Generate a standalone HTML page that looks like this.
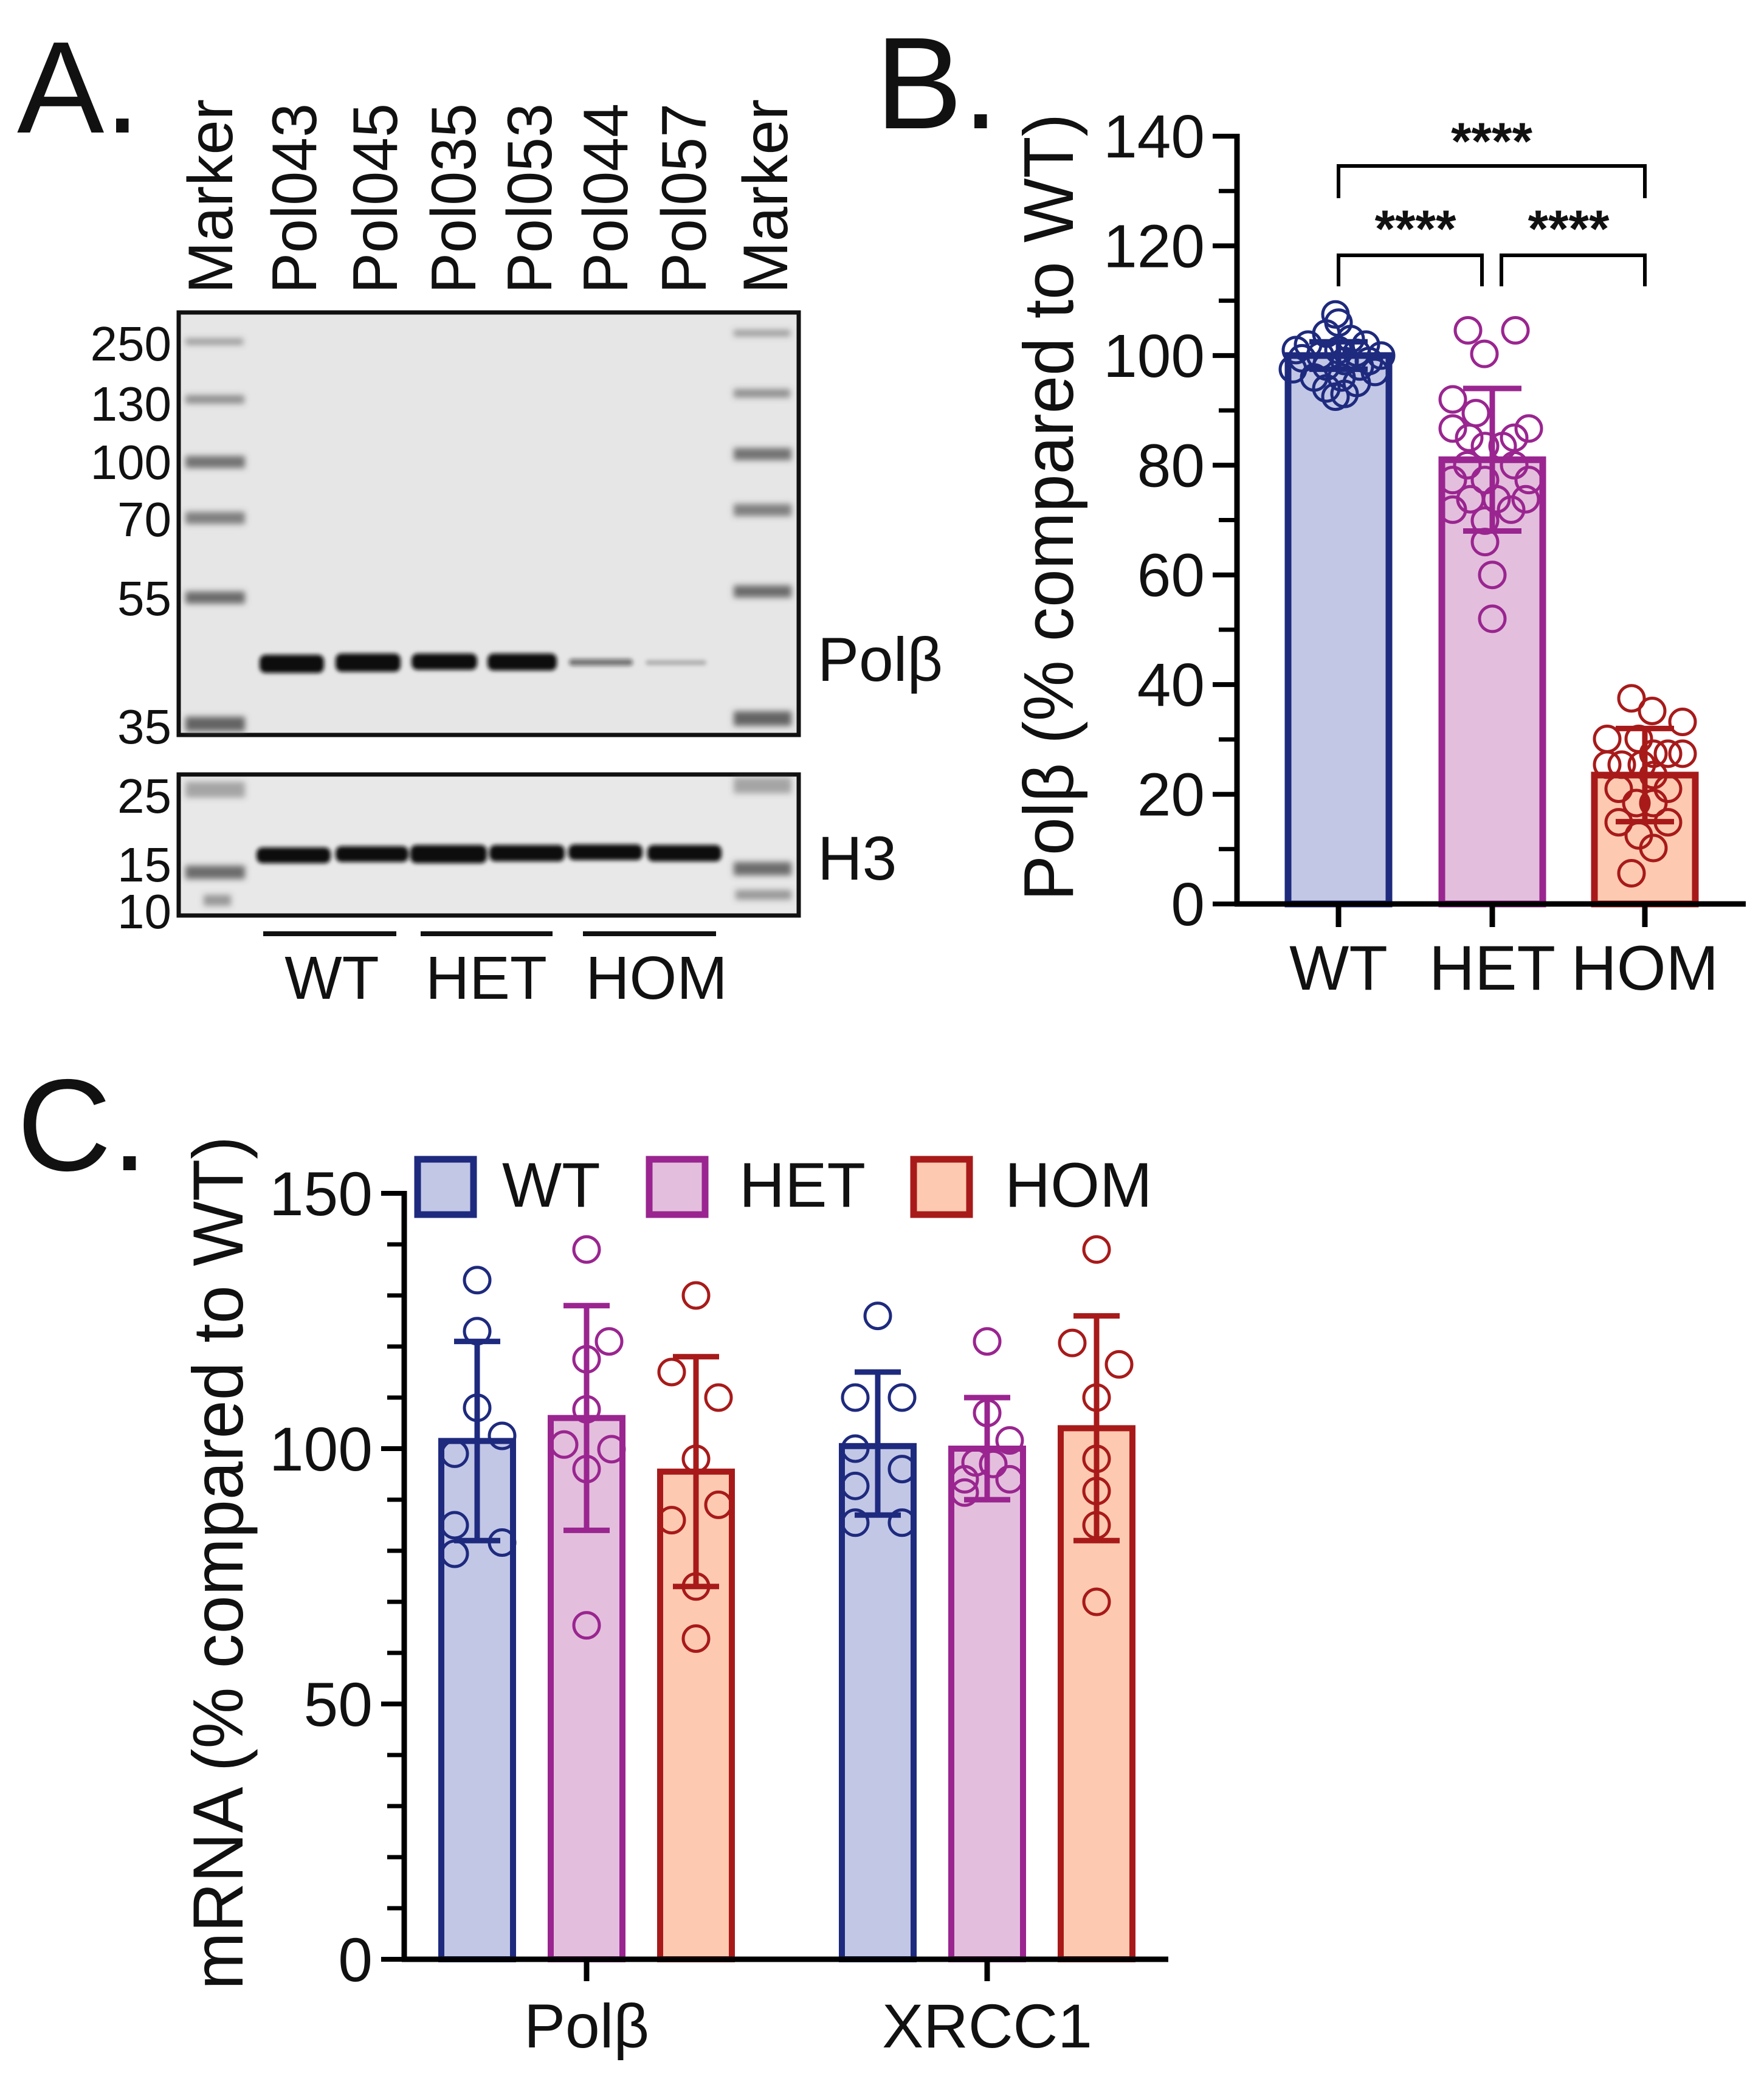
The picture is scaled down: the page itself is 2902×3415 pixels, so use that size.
<!DOCTYPE html>
<html><head><meta charset="utf-8"><style>
html,body{margin:0;padding:0;background:#fff}
svg{display:block}
text{font-family:"Liberation Sans",Arial,sans-serif;fill:#111}
</style></head><body>
<svg id="fig" width="2902" height="3415" viewBox="0 0 2902 3415" xmlns="http://www.w3.org/2000/svg">
<defs>
<filter id="blur4" x="-20%" y="-300%" width="140%" height="700%"><feGaussianBlur stdDeviation="5"/></filter>
<filter id="blur3" x="-20%" y="-200%" width="140%" height="500%"><feGaussianBlur stdDeviation="3.5"/></filter>
</defs>
<g id="panelA">
<text x="28" y="218" font-size="215">A.</text>
<g font-size="104">
<text transform="translate(382,483) rotate(-90)" textLength="320" lengthAdjust="spacingAndGlyphs">Marker</text>
<text transform="translate(520,483) rotate(-90)" textLength="313" lengthAdjust="spacingAndGlyphs">Pol043</text>
<text transform="translate(653,483) rotate(-90)" textLength="313" lengthAdjust="spacingAndGlyphs">Pol045</text>
<text transform="translate(782,483) rotate(-90)" textLength="313" lengthAdjust="spacingAndGlyphs">Pol035</text>
<text transform="translate(907,483) rotate(-90)" textLength="313" lengthAdjust="spacingAndGlyphs">Pol053</text>
<text transform="translate(1032,483) rotate(-90)" textLength="313" lengthAdjust="spacingAndGlyphs">Pol044</text>
<text transform="translate(1161,483) rotate(-90)" textLength="313" lengthAdjust="spacingAndGlyphs">Pol057</text>
<text transform="translate(1295,483) rotate(-90)" textLength="320" lengthAdjust="spacingAndGlyphs">Marker</text>
</g>
<g font-size="80" text-anchor="end">
<text x="282" y="593">250</text>
<text x="282" y="692">130</text>
<text x="282" y="788">100</text>
<text x="282" y="882">70</text>
<text x="282" y="1012">55</text>
<text x="282" y="1223">35</text>
<text x="282" y="1337">25</text>
<text x="282" y="1450">15</text>
<text x="282" y="1527">10</text>
</g>
<g id="blot1">
<rect x="294" y="514" width="1020" height="695" fill="#e6e6e6" stroke="#111" stroke-width="7"/>
<g fill="#555" filter="url(#blur4)">
<rect x="305" y="557" width="95" height="10" opacity="0.55"/>
<rect x="305" y="650" width="97" height="14" opacity="0.6"/>
<rect x="305" y="750" width="98" height="20" opacity="0.8"/>
<rect x="305" y="842" width="98" height="20" opacity="0.7"/>
<rect x="305" y="973" width="98" height="20" opacity="0.85"/>
<rect x="305" y="1179" width="98" height="24" opacity="0.9"/>
</g>
<g fill="#555" filter="url(#blur4)">
<rect x="1207" y="543" width="93" height="10" opacity="0.55"/>
<rect x="1207" y="640" width="93" height="14" opacity="0.6"/>
<rect x="1207" y="737" width="95" height="20" opacity="0.8"/>
<rect x="1207" y="829" width="95" height="20" opacity="0.7"/>
<rect x="1207" y="963" width="95" height="20" opacity="0.85"/>
<rect x="1207" y="1170" width="95" height="24" opacity="0.9"/>
</g>
<g fill="#111" filter="url(#blur3)">
<rect x="427" y="1077" width="106" height="30" rx="10"/>
<rect x="552" y="1075" width="107" height="30" rx="10"/>
<rect x="677" y="1075" width="108" height="27" rx="10"/>
<rect x="802" y="1075" width="114" height="28" rx="10"/>
<rect x="936" y="1084" width="105" height="11" rx="5" opacity="0.55"/>
<rect x="1062" y="1086" width="100" height="8" rx="4" opacity="0.25"/>
</g>
</g>
<g id="blot2">
<rect x="294" y="1274" width="1020" height="232" fill="#e8e8e8" stroke="#111" stroke-width="7"/>
<g fill="#555" filter="url(#blur4)">
<rect x="305" y="1286" width="98" height="26" opacity="0.45"/>
<rect x="305" y="1424" width="98" height="22" opacity="0.85"/>
<rect x="335" y="1472" width="45" height="18" opacity="0.55"/>
<rect x="1207" y="1279" width="95" height="26" opacity="0.45"/>
<rect x="1207" y="1418" width="95" height="22" opacity="0.85"/>
<rect x="1210" y="1464" width="92" height="16" opacity="0.55"/>
</g>
<g fill="#111" filter="url(#blur3)">
<rect x="422" y="1394" width="122" height="26" rx="10"/>
<rect x="552" y="1392" width="120" height="26" rx="10"/>
<rect x="675" y="1390" width="126" height="30" rx="10"/>
<rect x="805" y="1390" width="124" height="27" rx="10"/>
<rect x="935" y="1389" width="122" height="26" rx="10"/>
<rect x="1065" y="1390" width="122" height="27" rx="10"/>
</g>
</g>
<text x="1345" y="1120" font-size="102">Polβ</text>
<text x="1345" y="1447" font-size="102">H3</text>
<g stroke="#111" stroke-width="8">
<line x1="433" y1="1536" x2="652" y2="1536"/>
<line x1="692" y1="1536" x2="909" y2="1536"/>
<line x1="959" y1="1536" x2="1178" y2="1536"/>
</g>
<g font-size="100" text-anchor="middle">
<text x="546" y="1643">WT</text>
<text x="800" y="1643">HET</text>
<text x="1080" y="1643">HOM</text>
</g>
</g>
<text x="1440" y="211" font-size="215">B.</text>
<text x="28" y="1925" font-size="215">C.</text>
<g id="chartB"></g>
<g id="chartC"></g>
</svg>
<script>
// ---- Panel B data ----
const bCategories = ["WT", "HET", "HOM"];
const bMeans = [100, 81, 23.5];
const bSdLow = [97.5, 68, 15];
const bSdHigh = [102.5, 94, 32];
const bTicks = [0, 20, 40, 60, 80, 100, 120, 140];
const bPointsWT = [107.5,106,104,103,102,102,101,101,100.5,100,100,99.5,99,99,98,98,97.5,97,96,96,95,94,93,92.5];
const bPointsHET = [104.6,104.6,100.3,92,89.5,86.7,86.7,85,85,83.5,83.5,80,80,77.3,77.3,77.3,73.8,73.8,73.8,71.9,71.9,69.9,66,60,52];
const bPointsHOM = [37.5,35.2,33.2,30.1,30.1,27.4,27.4,27.4,25.4,25.4,25.4,23.5,21,21,18.4,18.4,14.9,14.9,12.5,10.2,5.6];
// ---- Panel C data ----
const cGenes = ["Polβ", "XRCC1"];
const cGroups = ["WT", "HET", "HOM"];
const cMeans = [[101.5, 106, 95.5], [100.5, 100, 104]];
const cSdLow = [[82, 84, 73], [87, 90, 82]];
const cSdHigh = [[121, 128, 118], [115, 110, 126]];
const cTicks = [0, 50, 100, 150];
const cPolbWT = [133,123,108,102.5,99,85,81.6,79.4];
const cPolbHET = [139,121,117.5,107.7,100.8,99.9,96,65.4];
const cPolbHOM = [130,115,110,98,89,86,73,62.8];
const cXrccWT = [126,110,110,100,96,92.7,85.5,85.5];
const cXrccHET = [121,107,101.6,97.3,94,94,91.4,97];
const cXrccHOM = [139,120.7,116.5,110,98,91.7,85,70];

// layout (jitter offsets in px, not data)
const jitB = [
 [-5,0,-20,20,-50,45,-70,0,30,-30,70,-60,10,50,-20,35,-75,60,-40,5,30,-20,10,-5],
 [-40,38,-13,-65,-27,-65,60,-38,36,-12,17,-41,36,-65,-12,60,-36,7,55,-65,31,-12,-12,0,0],
 [-22,12,62,-62,-10,14,38,62,-62,-38,-5,14,-43,38,-14,14,-43,38,-10,14,-22]
];
const jitC = [
 [[0,0,0,41,-37,-37,41,-37],[0,37,0,0,-37,41,0,0],[0,-40,37,0,37,-40,0,0]],
 [[0,-37,40,-37,40,-37,-37,40],[0,0,37,-19,-37,37,-37,10],[0,-40,37,0,0,0,0,0]]
];
const colors = {
  WT: {stroke:"#1e2a7e", fill:"#c2c7e6"},
  HET: {stroke:"#9a2590", fill:"#e3bfdd"},
  HOM: {stroke:"#a81a1a", fill:"#fdcab1"}
};
const NS = "http://www.w3.org/2000/svg";
function mk(tag, attrs, parent){
  const e = document.createElementNS(NS, tag);
  for (const k in attrs) e.setAttribute(k, attrs[k]);
  parent.appendChild(e);
  return e;
}

// ---------- Chart B ----------
(function(){
  const g = document.getElementById("chartB");
  const x0 = 2035, xEnd = 2872, y0 = 1487, yTop = 224, vMax = 140;
  const yS = v => y0 - (v / vMax) * (y0 - yTop);
  const centers = [2202, 2455, 2706];
  const xS = i => centers[i];
  const bw = 166;
  const ptsAll = [bPointsWT, bPointsHET, bPointsHOM];
  bCategories.forEach((cat, i) => {
    const c = colors[cat];
    const bar = mk("rect", {x: xS(i) - bw/2, y: yS(bMeans[i]), width: bw, height: y0 - yS(bMeans[i]), fill: c.fill, stroke: c.stroke, "stroke-width": 11}, g);
    
    
    ptsAll[i].forEach((v, j) => {
      const p = mk("circle", {cx: xS(i) + (jitB[i][j] || 0), cy: yS(v), r: 21, fill: "none", stroke: c.stroke, "stroke-width": 5}, g);
      
      
    });
    const eg = mk("g", {stroke: c.stroke, "stroke-width": 9}, g);
    
    
    mk("line", {x1: xS(i), x2: xS(i), y1: yS(bSdHigh[i]), y2: yS(bSdLow[i])}, eg);
    mk("line", {x1: xS(i) - 48, x2: xS(i) + 48, y1: yS(bSdHigh[i]), y2: yS(bSdHigh[i])}, eg);
    mk("line", {x1: xS(i) - 48, x2: xS(i) + 48, y1: yS(bSdLow[i]), y2: yS(bSdLow[i])}, eg);
  });
  const ax = mk("g", {stroke: "#000", "stroke-width": 9}, g);
  
  
  mk("line", {x1: x0, x2: x0, y1: yTop - 4, y2: y0 + 4}, ax);
  for (let v = 0; v <= vMax; v += 10) {
    const major = bTicks.indexOf(v) >= 0;
    mk("line", {x1: major ? x0 - 40 : x0 - 30, x2: x0, y1: yS(v), y2: yS(v), "stroke-width": major ? 8 : 7}, ax);
  }
  const xa = mk("g", {stroke: "#000", "stroke-width": 9}, g);
  
  
  mk("line", {x1: x0 - 4, x2: xEnd, y1: y0, y2: y0}, xa);
  centers.forEach((c, i) => mk("line", {x1: xS(i), x2: xS(i), y1: y0, y2: y0 + 38}, xa));
  bTicks.forEach(v => {
    const t = mk("text", {x: 1982, y: yS(v) + 35, "font-size": 100, "text-anchor": "end"}, g);
    t.textContent = v;
    
    
  });
  bCategories.forEach((cat, i) => {
    const t = mk("text", {x: xS(i), y: 1628, "font-size": 104, "text-anchor": "middle"}, g);
    t.textContent = cat;
    
    
  });
  const yt = mk("text", {transform: "translate(1765,1482) rotate(-90)", "font-size": 116, textLength: 1295, lengthAdjust: "spacingAndGlyphs"}, g);
  yt.textContent = "Polβ (% compared to WT)";
  
  
  const br = mk("g", {stroke: "#000", "stroke-width": 6, fill: "none"}, g);
  
  
  mk("polyline", {points: `${xS(0)},326 ${xS(0)},273 ${xS(2)},273 ${xS(2)},326`}, br);
  mk("polyline", {points: `${xS(0)},471 ${xS(0)},420 ${xS(1)-17},420 ${xS(1)-17},471`}, br);
  mk("polyline", {points: `${xS(1)+15},471 ${xS(1)+15},420 ${xS(2)},420 ${xS(2)},471`}, br);
  [[ (xS(0)+xS(2))/2, 262 ], [ (xS(0)+xS(1))/2, 406 ], [ (xS(1)+xS(2))/2, 406 ]].forEach((p, k) => {
    const t = mk("text", {x: p[0], y: p[1], "font-size": 86, "font-weight": "bold", "text-anchor": "middle"}, g);
    t.textContent = "****";
    
    
  });
})();

// ---------- Chart C ----------
(function(){
  const g = document.getElementById("chartC");
  const x0 = 665, xEnd = 1922, y0 = 3223, yTop = 1963, vMax = 150;
  const yS = v => y0 - (v / vMax) * (y0 - yTop);
  const groupCenters = [965, 1624];
  const xS = (gi, si) => groupCenters[gi] + (si - 1) * 180;
  const bw = 118;
  const pts = [[cPolbWT, cPolbHET, cPolbHOM], [cXrccWT, cXrccHET, cXrccHOM]];
  cGenes.forEach((gene, gi) => {
    cGroups.forEach((grp, si) => {
      const c = colors[grp];
      const xc = xS(gi, si);
      const bar = mk("rect", {x: xc - bw/2, y: yS(cMeans[gi][si]), width: bw, height: y0 - yS(cMeans[gi][si]), fill: c.fill, stroke: c.stroke, "stroke-width": 10}, g);
      
      
      pts[gi][si].forEach((v, j) => {
        const p = mk("circle", {cx: xc + jitC[gi][si][j], cy: yS(v), r: 21, fill: "none", stroke: c.stroke, "stroke-width": 5}, g);
        
        
      });
      const eg = mk("g", {stroke: c.stroke, "stroke-width": 9}, g);
      
      
      mk("line", {x1: xc, x2: xc, y1: yS(cSdHigh[gi][si]), y2: yS(cSdLow[gi][si])}, eg);
      mk("line", {x1: xc - 38, x2: xc + 38, y1: yS(cSdHigh[gi][si]), y2: yS(cSdHigh[gi][si])}, eg);
      mk("line", {x1: xc - 38, x2: xc + 38, y1: yS(cSdLow[gi][si]), y2: yS(cSdLow[gi][si])}, eg);
    });
  });
  const ax = mk("g", {stroke: "#000", "stroke-width": 9}, g);
  
  
  mk("line", {x1: x0, x2: x0, y1: yTop - 4, y2: y0 + 4}, ax);
  for (let v = 0; v <= vMax; v += 10) {
    const major = cTicks.indexOf(v) >= 0;
    mk("line", {x1: major ? x0 - 38 : x0 - 28, x2: x0, y1: yS(v), y2: yS(v), "stroke-width": major ? 8 : 7}, ax);
  }
  const xa = mk("g", {stroke: "#000", "stroke-width": 9}, g);
  
  
  mk("line", {x1: x0 - 4, x2: xEnd, y1: y0, y2: y0}, xa);
  groupCenters.forEach(c => mk("line", {x1: c, x2: c, y1: y0, y2: y0 + 36}, xa));
  cTicks.forEach(v => {
    const t = mk("text", {x: 613, y: yS(v) + 36, "font-size": 102, "text-anchor": "end"}, g);
    t.textContent = v;
    
    
  });
  cGenes.forEach((gene, gi) => {
    const t = mk("text", {x: groupCenters[gi], y: 3368, "font-size": 102, "text-anchor": "middle"}, g);
    t.textContent = gene;
    
    
  });
  const yt = mk("text", {transform: "translate(399,3273) rotate(-90)", "font-size": 117, textLength: 1404, lengthAdjust: "spacingAndGlyphs"}, g);
  yt.textContent = "mRNA (% compared to WT)";
  
  
  const legX = [[687, 826], [1068, 1216], [1503, 1653]];
  cGroups.forEach((grp, si) => {
    const c = colors[grp];
    const lg = mk("g", {}, g);
    
    
    mk("rect", {x: legX[si][0], y: 1907, width: 92, height: 91, fill: c.fill, stroke: c.stroke, "stroke-width": 11}, lg);
    const t = mk("text", {x: legX[si][1], y: 1985, "font-size": 104}, lg);
    t.textContent = grp;
  });
})();
</script>
</body></html>
